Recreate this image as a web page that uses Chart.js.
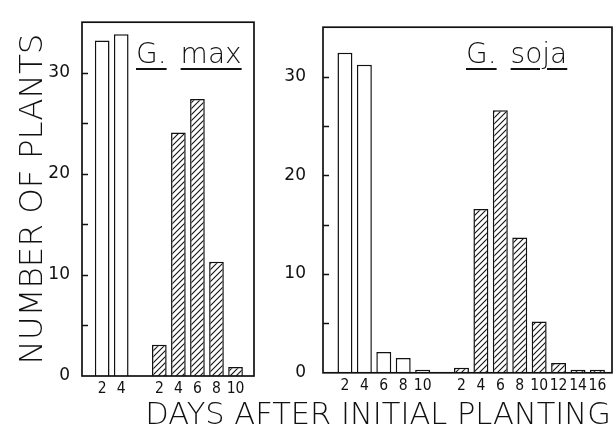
<!DOCTYPE html>
<html>
<head>
<meta charset="utf-8">
<script src="https://cdn.jsdelivr.net/npm/chart.js@4.4.0/dist/chart.umd.min.js"></script>
<style>
  html, body { margin: 0; padding: 0; background: #fff; }
  #wrap { position: relative; width: 614px; height: 439px; overflow: hidden; background: #fff; }
  .panel { position: absolute; top: 0; }
  .species {
    position: absolute; top: 40px; line-height: 28px; white-space: pre;
    font-family: 'DejaVu Sans'; font-weight: 200; font-size: 28px; color: #111;
  }
  .species span { text-decoration: underline; text-decoration-thickness: 1.5px; text-underline-offset: 5px; }
  .species span + span { margin-left: 14px; }
  #xtitle {
    position: absolute; top: 397px; left: 138px; width: 480px; text-align: center; white-space: pre;
    font-family: 'DejaVu Sans'; font-weight: 200; font-size: 30.5px; line-height: 34px; color: #111;
  }
</style>
</head>
<body>
<div id="wrap">
  <canvas id="maxChart" class="panel" style="left:0px" width="270" height="400"></canvas>
  <canvas id="sojaChart" class="panel" style="left:270px" width="344" height="400"></canvas>
  <div class="species" style="left:136px"><span>G.</span><span>max</span></div>
  <div class="species" style="left:466px"><span>G.</span><span>soja</span></div>
  <div id="xtitle">DAYS AFTER INITIAL PLANTING</div>
</div>
<script>
/* ---- data ---- */
var maxOpenDays = ['2', '4'];
var maxOpenPlants = [33.2, 33.8];
var maxHatchDays = ['2', '4', '6', '8', '10'];
var maxHatchPlants = [3.1, 24.1, 27.4, 11.3, 0.9];

var sojaOpenDays = ['2', '4', '6', '8', '10'];
var sojaOpenPlants = [32.4, 31.2, 2.1, 1.5, 0.3];
var sojaHatchDays = ['2', '4', '6', '8', '10', '12', '14', '16'];
var sojaHatchPlants = [0.5, 16.6, 26.6, 13.7, 5.2, 1.0, 0.3, 0.3];

var yTickLabels = [0, 10, 20, 30];

/* ---- hatching pattern ---- */
function makeHatch() {
  var c = document.createElement('canvas');
  c.width = 6; c.height = 6;
  var g = c.getContext('2d');
  g.fillStyle = '#fff';
  g.fillRect(0, 0, 6, 6);
  g.strokeStyle = '#111';
  g.lineWidth = 1.1;
  g.beginPath();
  g.moveTo(0, 6); g.lineTo(6, 0);
  g.moveTo(-1, 1); g.lineTo(1, -1);
  g.moveTo(5, 7); g.lineTo(7, 5);
  g.stroke();
  return g.createPattern(c, 'repeat');
}
var hatch = makeHatch();

/* box round the plot + short inward ticks every 5 */
var framePlugin = {
  id: 'frame',
  afterDatasetsDraw: function(chart) {
    var a = chart.chartArea, ctx = chart.ctx, ys = chart.scales.y;
    ctx.save();
    ctx.strokeStyle = '#111';
    ctx.lineWidth = 1.7;
    ctx.strokeRect(a.left, a.top, a.right - a.left, a.bottom - a.top);
    ctx.lineWidth = 1.3;
    ctx.beginPath();
    ys.ticks.forEach(function(t) {
      if (t.value <= ys.min || t.value >= ys.max) return;
      var y = Math.round(ys.getPixelForValue(t.value)) + 0.5;
      ctx.moveTo(a.left, y);
      ctx.lineTo(a.left + 6, y);
    });
    ctx.stroke();
    ctx.restore();
  }
};

function makePanel(id, openDays, openPlants, hatchDays, hatchPlants, lay) {
  var labels = openDays.concat([''], hatchDays);
  var gap = openDays.length + 1;
  var openPts = openPlants.map(function(v, i) { return {x: i, y: v}; });
  var hatchPts = hatchPlants.map(function(v, i) { return {x: gap + i, y: v}; });
  var barStyle = {
    grouped: false, barPercentage: 0.77, categoryPercentage: 1,
    borderColor: '#111', borderWidth: 1.5, borderSkipped: 'start'
  };

  return new Chart(document.getElementById(id), {
    type: 'bar',
    data: {
      datasets: [
        Object.assign({ label: 'open', data: openPts, backgroundColor: '#fff' }, barStyle),
        Object.assign({ label: 'hatched', data: hatchPts, backgroundColor: hatch }, barStyle)
      ]
    },
    options: {
      responsive: false,
      animation: false,
      layout: { padding: { top: lay.top, right: lay.right, bottom: 0, left: 0 } },
      plugins: { legend: { display: false }, tooltip: { enabled: false } },
      scales: {
        x: {
          type: 'linear',
          offset: false,
          min: lay.xMin,
          max: lay.xMax,
          afterBuildTicks: function(s) {
            s.ticks = labels.map(function(l, i) { return {value: i, label: l}; })
                            .filter(function(t) { return t.label !== ''; });
          },
          afterFit: function(s) { s.height = 24; },
          grid: { display: false, drawTicks: false },
          border: { display: false },
          ticks: {
            autoSkip: false, maxRotation: 0, padding: 4, color: '#111',
            font: { family: 'DejaVu Sans Condensed', size: 15.5 },
            callback: function(v) { return labels[v]; }
          }
        },
        y: {
          min: 0,
          max: 35,
          afterFit: function(s) { s.width = lay.yWidth; },
          grid: { display: false, drawTicks: false },
          border: { display: false },
          ticks: {
            stepSize: 5, padding: lay.yPad, color: '#111',
            font: { family: 'DejaVu Sans', size: 17 },
            callback: function(v) { return yTickLabels.indexOf(v) >= 0 ? String(v) : ''; }
          },
          title: {
            display: lay.yTitle !== '',
            text: lay.yTitle,
            color: '#111',
            padding: { top: 14, bottom: 0 },
            font: { family: 'DejaVu Sans', size: 32.5, weight: '200' }
          }
        }
      }
    },
    plugins: [framePlugin]
  });
}

makePanel('maxChart', maxOpenDays, maxOpenPlants, maxHatchDays, maxHatchPlants,
  { top: 13, right: 16, yWidth: 82, yPad: 12, xMin: -1.06, xMax: 7.97, yTitle: 'NUMBER OF PLANTS' });
makePanel('sojaChart', sojaOpenDays, sojaOpenPlants, sojaHatchDays, sojaHatchPlants,
  { top: 8, right: 2, yWidth: 53, yPad: 17, xMin: -1.13, xMax: 13.75, yTitle: '' });
</script>
</body>
</html>
